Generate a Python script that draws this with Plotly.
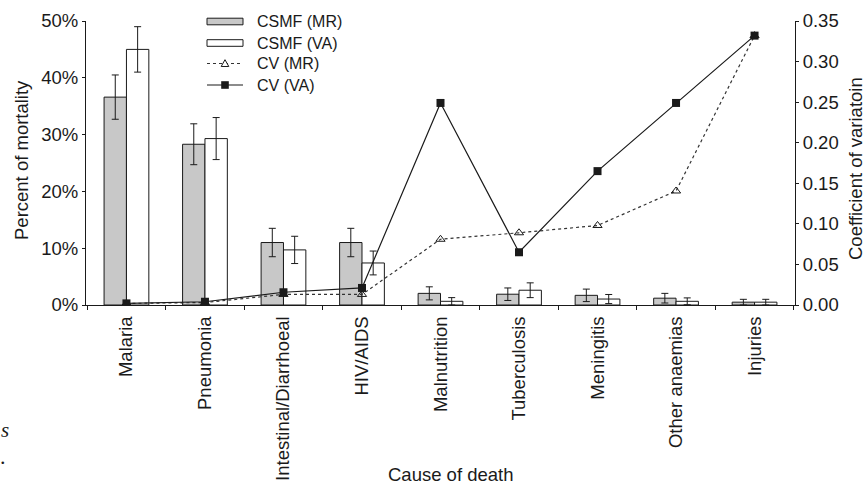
import plotly.graph_objects as go

categories = ["Malaria", "Pneumonia", "Intestinal/Diarrhoeal", "HIV/AIDS", "Malnutrition",
              "Tuberculosis", "Meningitis", "Other anaemias", "Injuries"]
csmf_mr = [36.6, 28.3, 11.0, 11.0, 2.05, 1.9, 1.7, 1.2, 0.5]
csmf_mr_err = [3.9, 3.6, 2.5, 2.5, 1.15, 1.1, 1.1, 0.85, 0.5]
csmf_va = [45.0, 29.3, 9.7, 7.4, 0.65, 2.6, 1.05, 0.65, 0.5]
csmf_va_err = [4.0, 3.7, 2.4, 2.1, 0.65, 1.3, 0.8, 0.6, 0.5]
cv_mr = [0.002, 0.003, 0.013, 0.013, 0.081, 0.089, 0.098, 0.1405, 0.332]
cv_va = [0.002, 0.004, 0.0157, 0.021, 0.249, 0.065, 0.165, 0.249, 0.332]

left_ticks = [0, 10, 20, 30, 40, 50]
left_ticktext = ["0%", "10%", "20%", "30%", "40%", "50%"]
right_ticks = [0, 0.05, 0.1, 0.15, 0.2, 0.25, 0.3, 0.35]

legend_names = ["CSMF (MR)", "CSMF (VA)", "CV (MR)", "CV (VA)"]

FONT = "Liberation Sans, Arial, Helvetica, sans-serif"
INK = "#1a1a1a"
FS = 18.5

# page geometry (pixels)
W, H = 865, 487
L, R, T, B = 86, 795, 21, 305


def px(p):
    return (p - L) / (R - L)


def py(p):
    return (B - p) / (B - T)


fig = go.Figure()
fig.add_trace(go.Bar(
    x=categories, y=csmf_mr, name=legend_names[0],
    marker=dict(color="#c8c8c8", line=dict(color=INK, width=1)),
    error_y=dict(type="data", array=csmf_mr_err, color=INK, thickness=1, width=3.5),
))
fig.add_trace(go.Bar(
    x=categories, y=csmf_va, name=legend_names[1],
    marker=dict(color="#ffffff", line=dict(color=INK, width=1)),
    error_y=dict(type="data", array=csmf_va_err, color=INK, thickness=1, width=3.5),
))
fig.add_trace(go.Scatter(
    x=categories, y=cv_mr, name=legend_names[2], yaxis="y2", mode="lines+markers",
    line=dict(color="#333333", width=1.2, dash="dot"),
    marker=dict(symbol="triangle-up-open", size=8, color=INK, line=dict(width=1)),
))
fig.add_trace(go.Scatter(
    x=categories, y=cv_va, name=legend_names[3], yaxis="y2", mode="lines+markers",
    line=dict(color=INK, width=1.2),
    marker=dict(symbol="square", size=8, color=INK),
))

n = len(categories)
boundaries = [i - 0.5 for i in range(n + 1)]

fig.update_layout(
    width=W, height=H,
    margin=dict(l=L, r=W - R, t=T, b=H - B, autoexpand=False),
    paper_bgcolor="white", plot_bgcolor="white",
    font=dict(family=FONT, size=FS, color=INK),
    barmode="group", bargap=0.43, bargroupgap=0,
    showlegend=False,
    xaxis=dict(
        type="category", showline=True, linecolor=INK, linewidth=1,
        ticks="outside", ticklen=4, tickcolor=INK, tickson="boundaries",
        tickangle=-90, tickfont=dict(size=FS), showgrid=False, zeroline=False,
        automargin=False, ticklabelstandoff=3,
    ),
    xaxis2=dict(
        overlaying="x", anchor="y", range=[-0.5, n - 0.5], tickvals=boundaries,
        ticks="inside", ticklen=3, tickcolor=INK, showticklabels=False,
        showline=False, showgrid=False, zeroline=False,
    ),
    yaxis=dict(
        range=[0, 50], tickvals=left_ticks, ticktext=left_ticktext,
        showline=True, linecolor=INK, linewidth=1, ticks="outside", ticklen=3,
        tickcolor=INK, showgrid=False, zeroline=False, tickfont=dict(size=FS),
        automargin=False,
    ),
    yaxis2=dict(
        overlaying="y", side="right", range=[0, 0.35],
        tickvals=right_ticks, tickformat=".2f",
        showline=True, linecolor=INK, linewidth=1, ticks="outside", ticklen=3,
        tickcolor=INK, showgrid=False, zeroline=False, tickfont=dict(size=FS),
        automargin=False,
    ),
    yaxis3=dict(
        overlaying="y", anchor="x", side="left", range=[0, 50], tickvals=left_ticks,
        ticks="inside", ticklen=3, tickcolor=INK, showticklabels=False,
        showline=False, showgrid=False, zeroline=False,
    ),
    yaxis4=dict(
        overlaying="y", anchor="x", side="right", range=[0, 0.35], tickvals=right_ticks,
        ticks="inside", ticklen=3, tickcolor=INK, showticklabels=False,
        showline=False, showgrid=False, zeroline=False,
    ),
)

annotations = [
    dict(text="Cause of death", x=px(450), y=py(475)),
    dict(text="Percent of mortality", x=px(21), y=py(160), textangle=-90),
    dict(text="Coefficient of variatoin", x=px(855), y=py(169), textangle=-90),
    dict(text="<i>s</i>", x=px(5), y=py(430),
         font=dict(family="Liberation Serif, serif", size=21, color=INK)),
    dict(text=".", x=px(3), y=py(456),
         font=dict(family="Liberation Serif, serif", size=22, color=INK)),
]

# custom legend (wide swatches as in the original)
rows = [21.5, 43, 63.5, 85]
sx0, sx1, tx = 207, 243, 255
shapes = []
for i, name in enumerate(legend_names):
    annotations.append(dict(text=name, x=px(tx), y=py(rows[i]), xanchor="left",
                            font=dict(size=16, color=INK)))
# bar swatches
shapes.append(dict(type="rect", xref="paper", yref="paper",
                   x0=px(sx0), x1=px(sx1), y0=py(rows[0] + 3.3), y1=py(rows[0] - 3.3),
                   fillcolor="#c8c8c8", line=dict(color=INK, width=1)))
shapes.append(dict(type="rect", xref="paper", yref="paper",
                   x0=px(sx0), x1=px(sx1), y0=py(rows[1] + 3.3), y1=py(rows[1] - 3.3),
                   fillcolor="#ffffff", line=dict(color=INK, width=1)))
# line swatches
shapes.append(dict(type="line", xref="paper", yref="paper",
                   x0=px(sx0), x1=px(sx1), y0=py(rows[2]), y1=py(rows[2]),
                   line=dict(color="#333333", width=1.2, dash="dot")))
shapes.append(dict(type="line", xref="paper", yref="paper",
                   x0=px(sx0), x1=px(sx1), y0=py(rows[3]), y1=py(rows[3]),
                   line=dict(color=INK, width=1.2)))
cx = (sx0 + sx1) / 2
tri = "M {:.5f},{:.5f} L {:.5f},{:.5f} L {:.5f},{:.5f} Z".format(
    px(cx - 3.8), py(rows[2] + 3), px(cx + 3.8), py(rows[2] + 3), px(cx), py(rows[2] - 3.8))
shapes.append(dict(type="path", xref="paper", yref="paper", path=tri,
                   fillcolor="white", line=dict(color=INK, width=1)))
shapes.append(dict(type="rect", xref="paper", yref="paper",
                   x0=px(cx - 3.8), x1=px(cx + 3.8), y0=py(rows[3] + 3.8), y1=py(rows[3] - 3.8),
                   fillcolor=INK, line=dict(color=INK, width=0)))

for a in annotations:
    a.setdefault("xref", "paper")
    a.setdefault("yref", "paper")
    a.setdefault("showarrow", False)
    a.setdefault("xanchor", "center")
    a.setdefault("yanchor", "middle")
    a.setdefault("font", dict(size=FS, color=INK))

fig.update_layout(annotations=annotations, shapes=shapes)

fig.write_html("out.html")
